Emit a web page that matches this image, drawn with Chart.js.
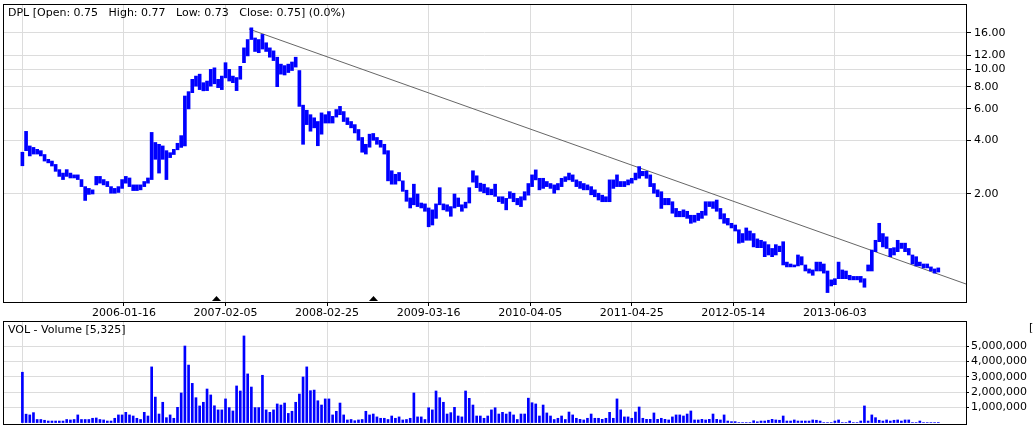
<!DOCTYPE html>
<html>
<head>
<meta charset="utf-8">
<script src="https://cdn.jsdelivr.net/npm/chart.js@4.4.0/dist/chart.umd.min.js"></script>
<style>
  body { margin: 0; background: #fff; }
  #wrap { position: relative; width: 1034px; height: 430px; }
  canvas { position: absolute; left: 0; }
  #graficoPreco { top: 0; }
  #graficoVol { top: 315px; }
</style>
</head>
<body>
<div id="wrap">
  <canvas id="graficoPreco" width="1034" height="318" style="width:1034px;height:318px"></canvas>
  <canvas id="graficoVol" width="1034" height="115" style="width:1034px;height:115px"></canvas>
</div>
<script>
// one bar every 2 weeks, week 0 = 2004-12-27
const PASSO = 2;

const precoMax = [
  3.43, 4.49, 3.72, 3.65, 3.56, 3.50, 3.33, 3.13, 3.06, 2.93,
  2.74, 2.62, 2.74, 2.62, 2.56, 2.56, 2.41, 2.20, 2.15, 2.11,
  2.51, 2.51, 2.41, 2.35, 2.20, 2.15, 2.20, 2.41, 2.51, 2.46,
  2.25, 2.25, 2.25, 2.35, 2.46, 4.43, 3.89, 3.80, 3.72, 3.50,
  3.41, 3.56, 3.85, 4.25, 7.09, 7.50, 8.79, 9.17, 9.40, 8.42,
  8.60, 10.0, 10.2, 8.79, 9.17, 10.9, 10.0, 9.17, 9.00, 10.4,
  13.2, 14.7, 17.1, 15.0, 14.7, 15.7, 14.1, 13.2, 12.7, 11.7,
  10.7, 10.5, 10.7, 11.0, 11.7, 9.85, 6.30, 5.90, 5.57, 5.35,
  5.10, 5.70, 5.57, 5.80, 5.45, 5.95, 6.20, 5.80, 5.35, 5.10,
  4.90, 4.60, 4.15, 3.80, 4.33, 4.37, 4.15, 4.00, 3.80, 3.50,
  2.70, 2.58, 2.64, 2.37, 2.10, 1.90, 2.27, 2.00, 1.78, 1.76,
  1.67, 1.63, 1.76, 2.17, 1.76, 1.74, 1.70, 2.00, 1.90, 1.74,
  1.80, 2.17, 2.70, 2.53, 2.30, 2.27, 2.17, 2.13, 2.27, 1.93,
  1.93, 1.89, 2.06, 2.02, 1.89, 1.93, 2.06, 2.29, 2.56, 2.73,
  2.45, 2.45, 2.35, 2.29, 2.25, 2.29, 2.45, 2.50, 2.62, 2.56,
  2.40, 2.35, 2.29, 2.25, 2.20, 2.11, 2.02, 1.97, 1.93, 2.40,
  2.40, 2.56, 2.35, 2.35, 2.40, 2.45, 2.62, 2.85, 2.68, 2.68,
  2.56, 2.29, 2.11, 2.06, 1.89, 1.89, 1.81, 1.66, 1.60, 1.63,
  1.60, 1.52, 1.52, 1.56, 1.60, 1.81, 1.81, 1.81, 1.85, 1.66,
  1.55, 1.46, 1.37, 1.34, 1.26, 1.20, 1.29, 1.24, 1.20, 1.12,
  1.10, 1.08, 1.04, 0.99, 1.04, 1.02, 1.08, 0.83, 0.81, 0.80,
  0.91, 0.89, 0.80, 0.76, 0.75, 0.83, 0.83, 0.81, 0.74, 0.66,
  0.67, 0.83, 0.75, 0.74, 0.70, 0.69, 0.69, 0.69, 0.67, 0.80,
  0.97, 1.10, 1.37, 1.20, 1.15, 0.99, 1.00, 1.10, 1.06, 1.06,
  0.99, 0.91, 0.89, 0.83, 0.81, 0.81, 0.78, 0.76, 0.77
];

const precoMin = [
  2.88, 3.50, 3.27, 3.35, 3.35, 3.27, 3.06, 2.99, 2.87, 2.68,
  2.51, 2.41, 2.51, 2.46, 2.46, 2.41, 2.20, 1.84, 1.99, 2.00,
  2.25, 2.30, 2.25, 2.20, 2.02, 2.02, 2.04, 2.15, 2.30, 2.20,
  2.09, 2.09, 2.11, 2.20, 2.30, 2.41, 3.13, 2.62, 3.13, 2.41,
  3.20, 3.33, 3.54, 3.65, 3.72, 6.00, 7.40, 8.05, 7.70, 7.58,
  7.60, 8.05, 8.30, 7.90, 7.70, 8.96, 8.60, 8.42, 7.60, 8.80,
  10.9, 11.9, 14.7, 12.6, 12.4, 13.0, 12.6, 11.7, 11.2, 8.00,
  9.40, 9.30, 9.60, 9.85, 10.3, 6.20, 3.80, 4.90, 4.50, 4.70,
  3.73, 4.33, 5.00, 5.00, 5.00, 5.40, 5.57, 5.10, 4.90, 4.70,
  4.40, 4.00, 3.43, 3.35, 3.66, 4.00, 3.80, 3.66, 3.35, 2.37,
  2.27, 2.27, 2.37, 2.07, 1.82, 1.67, 1.74, 1.70, 1.67, 1.60,
  1.31, 1.34, 1.46, 1.74, 1.63, 1.60, 1.50, 1.67, 1.70, 1.60,
  1.67, 1.78, 2.33, 2.17, 2.07, 2.03, 1.98, 1.98, 1.94, 1.81,
  1.77, 1.63, 1.89, 1.81, 1.74, 1.70, 1.85, 1.97, 2.20, 2.40,
  2.11, 2.15, 2.20, 2.15, 2.02, 2.11, 2.20, 2.35, 2.40, 2.35,
  2.20, 2.15, 2.11, 2.11, 1.98, 1.93, 1.85, 1.81, 1.81, 1.81,
  2.15, 2.20, 2.20, 2.20, 2.25, 2.30, 2.40, 2.45, 2.53, 2.45,
  2.20, 2.02, 1.93, 1.66, 1.74, 1.74, 1.56, 1.49, 1.49, 1.49,
  1.46, 1.37, 1.39, 1.42, 1.46, 1.52, 1.70, 1.66, 1.60, 1.45,
  1.37, 1.34, 1.29, 1.24, 1.06, 1.07, 1.10, 1.10, 1.01, 1.00,
  1.00, 0.89, 0.91, 0.89, 0.91, 0.95, 0.80, 0.78, 0.78, 0.78,
  0.79, 0.80, 0.74, 0.72, 0.70, 0.74, 0.74, 0.72, 0.56, 0.61,
  0.62, 0.67, 0.67, 0.67, 0.66, 0.66, 0.66, 0.64, 0.60, 0.74,
  0.74, 0.95, 1.08, 1.01, 0.99, 0.89, 0.91, 0.95, 0.99, 0.95,
  0.91, 0.81, 0.79, 0.79, 0.77, 0.77, 0.74, 0.72, 0.73
];

// volume in millions
const volumeMi = [
  3.3, 0.55, 0.5, 0.65, 0.2, 0.2, 0.15, 0.1, 0.1, 0.1,
  0.1, 0.1, 0.2, 0.17, 0.2, 0.5, 0.2, 0.2, 0.2, 0.28,
  0.3, 0.2, 0.17, 0.1, 0.1, 0.28, 0.5, 0.5, 0.67, 0.5,
  0.43, 0.28, 0.2, 0.67, 0.43, 3.65, 1.67, 0.56, 1.33, 0.32,
  0.5, 0.28, 1.0, 1.94, 5.02, 3.77, 2.57, 1.63, 1.09, 1.33,
  2.2, 1.81, 1.1, 0.83, 0.83, 1.55, 0.98, 0.76, 2.4, 2.07,
  5.68, 3.19, 2.33, 0.98, 0.98, 3.1, 0.83, 0.67, 0.83, 1.22,
  1.15, 1.28, 0.6, 0.74, 1.33, 1.87, 2.99, 3.65, 2.09, 2.13,
  1.43, 1.15, 1.55, 1.55, 0.5, 0.74, 1.28, 0.5, 0.17, 0.2,
  0.12, 0.17, 0.2, 0.74, 0.5, 0.56, 0.37, 0.28, 0.28, 0.2,
  0.43, 0.28, 0.37, 0.17, 0.2, 0.28, 1.94, 0.37, 0.37, 0.2,
  0.97, 0.83, 2.07, 1.63, 1.33, 0.56, 0.65, 1.0, 0.43, 0.37,
  2.07, 1.59, 1.15, 0.43, 0.43, 0.28, 0.43, 0.83, 0.97, 0.56,
  0.67, 0.56, 0.69, 0.5, 0.2, 0.56, 0.56, 1.6, 1.3, 1.22,
  0.43, 1.15, 0.63, 0.43, 0.2, 0.28, 0.43, 0.2, 0.69, 0.5,
  0.28, 0.21, 0.17, 0.28, 0.56, 0.28, 0.28, 0.21, 0.28, 0.67,
  0.28, 1.55, 0.83, 0.37, 0.37, 0.28, 0.69, 1.02, 0.28, 0.21,
  0.21, 0.63, 0.21, 0.28, 0.21, 0.17, 0.37, 0.5, 0.5, 0.43,
  0.56, 0.76, 0.17, 0.17, 0.21, 0.17, 0.21, 0.56, 0.21, 0.17,
  0.5, 0.1, 0.06, 0.06, 0, 0, 0, 0, 0.12, 0.05,
  0.1, 0.1, 0.15, 0.21, 0.17, 0.15, 0.43, 0.1, 0.1, 0.17,
  0.1, 0.1, 0.1, 0.1, 0.17, 0.15, 0.1, 0, 0, 0,
  0.1, 0.17, 0, 0, 0.1, 0, 0, 0.1, 1.09, 0.1,
  0.5, 0.32, 0.15, 0.1, 0.17, 0.1, 0.15, 0.17, 0.1, 0.17,
  0.17, 0, 0, 0.1, 0, 0, 0, 0, 0.005
];

const semanasTick = [0, 55, 110, 165, 220, 275, 330, 385, 440];
const rotulosTick = ['', '2006-01-16', '2007-02-05', '2008-02-25', '2009-03-16', '2010-04-05', '2011-04-25', '2012-05-14', '2013-06-03'];
const ticksPreco = [2, 4, 6, 8, 10, 12, 16];
const ticksVol = [1000000, 2000000, 3000000, 4000000, 5000000];
const semanasMarca = [105, 190];
const linhaTendencia = [{ x: 122.7, y: 16.84 }, { x: 511, y: 0.6255 }];

const semanas = precoMax.map((_, i) => i * PASSO);
const FONTE = '11px "DejaVu Sans"';
const GRADE = '#dcdcdc';
const AZUL = '#0000ff';

Chart.defaults.font.family = '"DejaVu Sans"';
Chart.defaults.font.size = 11;
Chart.defaults.color = '#000';

// frame + title text inside plot
const moldura = {
  id: 'moldura',
  afterDraw(chart, args, opts) {
    const { ctx, chartArea: a } = chart;
    ctx.save();
    ctx.strokeStyle = '#000';
    ctx.lineWidth = 1;
    ctx.strokeRect(Math.round(a.left) + 0.5, Math.round(a.top) + 0.5,
      Math.round(a.right - a.left), Math.round(a.bottom - a.top));
    ctx.fillStyle = '#000';
    ctx.font = FONTE;
    ctx.textBaseline = 'middle';
    ctx.fillText(opts.texto, a.left + 5, a.top + 9);
    if (opts.extra) ctx.fillText(opts.extra, 1029, a.top + 7);
    ctx.restore();
  }
};

// small black triangles on the bottom border
const marcas = {
  id: 'marcas',
  afterDatasetsDraw(chart) {
    const { ctx, chartArea: a, scales } = chart;
    ctx.save();
    ctx.fillStyle = '#000';
    semanasMarca.forEach(w => {
      const x = Math.round(scales.x.getPixelForValue(w)) + 0.5;
      ctx.beginPath();
      ctx.moveTo(x - 4.5, a.bottom - 1);
      ctx.lineTo(x + 4.5, a.bottom - 1);
      ctx.lineTo(x, a.bottom - 6);
      ctx.closePath();
      ctx.fill();
    });
    ctx.restore();
  }
};

const semPadding = s => { s.paddingTop = 0; s.paddingBottom = 0; s.paddingLeft = 0; s.paddingRight = 0; };

const eixoX = (altura, mostrar) => ({
  type: 'linear',
  offset: false,
  min: -10.5,
  max: 511,
  afterBuildTicks: s => { s.ticks = semanasTick.map(v => ({ value: v })); },
  afterFit: s => { s.height = altura; semPadding(s); },
  grid: {
    offset: false,
    color: GRADE,
    // no tick mark under the first (unlabelled) line
    tickColor: c => (c.tick && c.tick.value === 0 ? 'rgba(0,0,0,0)' : '#000'),
    tickLength: mostrar ? 4 : 0,
    drawTicks: mostrar
  },
  border: { display: false },
  ticks: {
    display: mostrar,
    autoSkip: false,
    maxRotation: 0,
    minRotation: 0,
    padding: 1,
    callback: v => rotulosTick[semanasTick.indexOf(v)]
  }
});

const configPreco = {
  type: 'bar',
  data: {
    datasets: [{
      label: 'DPL',
      data: semanas.map((w, i) => ({ x: w, y: [precoMin[i], precoMax[i]] })),
      backgroundColor: AZUL,
      borderWidth: 0,
      barThickness: 3,
      grouped: false
    }, {
      type: 'line',
      label: 'tendencia',
      data: linhaTendencia,
      borderColor: '#666',
      borderWidth: 1,
      pointRadius: 0,
      fill: false
    }]
  },
  options: {
    responsive: false,
    animation: false,
    devicePixelRatio: 1,
    layout: { padding: { left: 3, top: 4, right: 0, bottom: 0 } },
    plugins: {
      legend: { display: false },
      tooltip: { enabled: false },
      moldura: { texto: 'DPL [Open: 0.75   High: 0.77   Low: 0.73   Close: 0.75] (0.0%)' }
    },
    scales: {
      x: eixoX(16, true),
      y: {
        type: 'logarithmic',
        position: 'right',
        min: 0.4958,
        max: 23.26,
        afterBuildTicks: s => { s.ticks = ticksPreco.map(v => ({ value: v })); },
        afterFit: s => { s.width = 68; semPadding(s); },
        grid: { color: GRADE, tickColor: '#000', tickLength: 5 },
        border: { display: false },
        ticks: { padding: 3, callback: v => v.toFixed(2) }
      }
    }
  },
  plugins: [moldura, marcas]
};

const configVol = {
  type: 'bar',
  data: {
    datasets: [{
      label: 'Volume',
      data: semanas.map((w, i) => ({ x: w, y: volumeMi[i] * 1000000 })),
      backgroundColor: AZUL,
      borderWidth: 0,
      barThickness: 2,
      grouped: false
    }]
  },
  options: {
    responsive: false,
    animation: false,
    devicePixelRatio: 1,
    layout: { padding: { left: 3, top: 6, right: 0, bottom: 0 } },
    plugins: {
      legend: { display: false },
      tooltip: { enabled: false },
      moldura: { texto: 'VOL - Volume [5,325]', extra: '[' }
    },
    scales: {
      x: eixoX(6, false),
      y: {
        type: 'linear',
        position: 'right',
        min: -95000,
        max: 6660000,
        afterBuildTicks: s => { s.ticks = ticksVol.map(v => ({ value: v })); },
        afterFit: s => { s.width = 68; semPadding(s); },
        grid: { color: GRADE, tickColor: '#000', tickLength: 3 },
        border: { display: false },
        ticks: { padding: 2, callback: v => v.toLocaleString('en-US') }
      }
    }
  },
  plugins: [moldura]
};

const graficoPreco = new Chart(document.getElementById('graficoPreco'), configPreco);
const graficoVol = new Chart(document.getElementById('graficoVol'), configVol);
</script>
</body>
</html>
